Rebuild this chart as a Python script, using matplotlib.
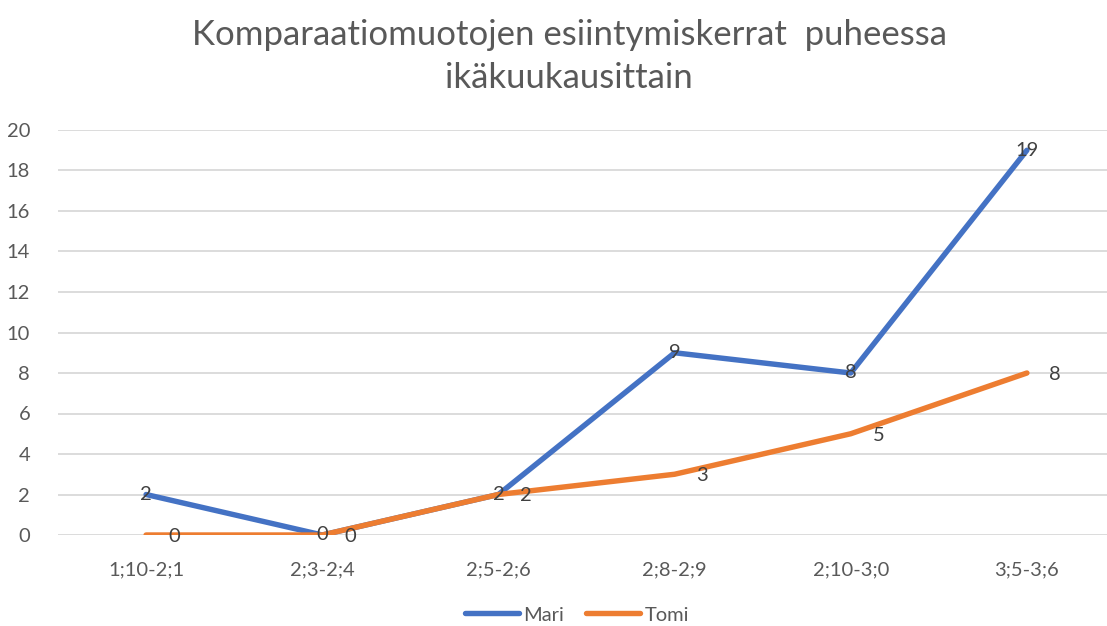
import matplotlib.pyplot as plt

categories = ["1;10-2;1", "2;3-2;4", "2;5-2;6", "2;8-2;9", "2;10-3;0", "3;5-3;6"]
mari = [2, 0, 2, 9, 8, 19]
tomi = [0, 0, 2, 3, 5, 8]

blue = "#4472C4"
orange = "#ED7D31"
text_col = "#595959"
label_col = "#404040"

plt.rcParams['font.family'] = ['Lato', 'DejaVu Sans']

fig = plt.figure(figsize=(11.07, 6.26), dpi=100)
ax = fig.add_axes([58 / 1107, 91 / 626, 1057 / 1107, 405 / 626])

x = list(range(len(categories)))
ax.plot(x, mari, color=blue, linewidth=3.9, solid_capstyle='round', label="Mari", zorder=3)
ax.plot(x, tomi, color=orange, linewidth=3.9, solid_capstyle='round', label="Tomi", zorder=3)

for i, v in enumerate(mari):
    ax.text(i, v, str(v), ha='center', va='center', fontsize=14.5, color=label_col, zorder=4)
for i, v in enumerate(tomi):
    ax.annotate(str(v), (i, v), xytext=(20, -1), textcoords='offset points',
                ha='center', va='center', fontsize=14.5, color=label_col, zorder=4)

ax.set_xlim(-0.5, 5.5)
ax.set_ylim(0, 20)
ax.set_yticks(range(0, 21, 2))
ax.set_xticks(x)
ax.set_xticklabels(categories)
ax.grid(axis='y', color='#D9D9D9', linewidth=1.3)
ax.set_axisbelow(True)
for s in ax.spines.values():
    s.set_visible(False)
ax.tick_params(length=0, labelsize=14.5, labelcolor=text_col)
ax.tick_params(axis='x', pad=19)
ax.tick_params(axis='y', pad=20)

fig.suptitle("Komparaatiomuotojen esiintymiskerrat  puheessa\nikäkuukausittain",
             x=569 / 1107, y=0.97, fontsize=25, color=text_col, linespacing=1.45)

fig.legend(loc='lower center', bbox_to_anchor=(0.521, -0.025), ncol=2, frameon=False,
           fontsize=14.5, labelcolor=text_col, handlelength=2.7, handletextpad=0.2,
           columnspacing=1.1)

fig.savefig("out.png", dpi=100)
